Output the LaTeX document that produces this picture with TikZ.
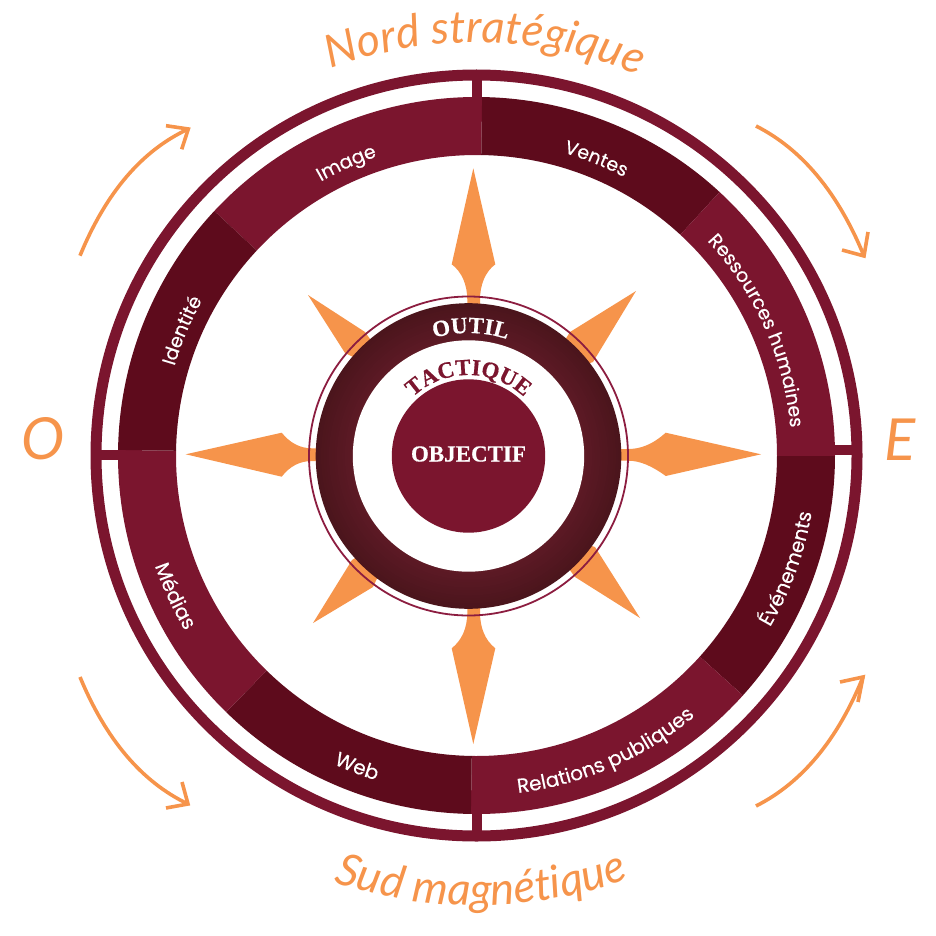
\documentclass[tikz,border=0pt]{standalone}
\usepackage{fontspec}
\usetikzlibrary{decorations.text,calc}
\newfontfamily\handfont{Lato}
\newfontfamily\bandfont[FakeBold=0.25]{Poppins}
\newfontfamily\heavyfont[BoldFeatures={FakeBold=0.5}]{Liberation Serif}
\definecolor{wine}{HTML}{7B152E}
\definecolor{winedark}{HTML}{5E0B1C}
\definecolor{sun}{HTML}{F6944B}
\definecolor{hairline}{HTML}{8C1D40}
\definecolor{ringa}{HTML}{5E1A26}
\definecolor{ringb}{HTML}{4B151C}
\tikzset{
  spike/.style={fill=sun},
  loop/.style={draw=sun,line width=3.6pt,fill=none},
  headline/.style={draw=sun,line width=3.6pt,line cap=butt},
  spoke/.style={draw=wine,line width=10pt},
  cardinal/.style={text=sun,font=\handfont\itshape\fontsize{58}{58}\selectfont,inner sep=0pt},
  core/.style={text=white,font=\heavyfont\bfseries\fontsize{23}{23}\selectfont,inner sep=0pt}
}
\newcommand\bandseg[3]{\fill[#3] (C) ++(#1:358.5pt) arc (#1:#2:358.5pt) -- ($(C)+(#2:300.5pt)$) arc (#2:#1:300.5pt) -- cycle;}
\newcommand\curvedtext[6]{\path[decorate,decoration={text along path,text={|#5|#6},text align=center}] (#1) ++(#2:#4) arc (#2:#3:#4);}
\newcommand\bandfmt{\bandfont\fontsize{19}{19}\selectfont\color{white}}
\newcommand\bandfmtb{\bandfont\fontsize{20}{20}\selectfont\color{white}}
\newcommand\curvedarrow[5]{%
  \draw[loop] (#1) .. controls ($(#1)!0.667!(#2)$) and ($(#3)!0.667!(#2)$) .. (#3);
  \draw[headline] (#4) -- (#3) -- (#5);}
\begin{document}
\begin{tikzpicture}[x=1pt,y=-1pt]
\useasboundingbox (0,0) rectangle (936,936);
\coordinate (C) at (476.5,455.5);
\coordinate (H) at (468.5,456);
% compass points
\fill[spike] (473.3,168.3) -- (495.3,264.3) .. controls (485,272) and (480,285) .. (480,300) -- (480,315) -- (467.3,315) -- (467.3,300) .. controls (467.3,285) and (462,272) .. (451.7,264.3) -- cycle;
\fill[spike] (761,454.3) -- (665.7,432.7) .. controls (652,445) and (640,449) .. (628,449) -- (610,449) -- (610,460.7) -- (628,460.7) .. controls (640,460.7) and (652,466) .. (665.7,476) -- cycle;
\fill[spike] (185.7,454.3) -- (281.7,432.7) .. controls (290,443) and (300,448.3) .. (312,448.3) -- (330,448.3) -- (330,461) -- (312,461) .. controls (300,461) and (290,466) .. (281.7,476.7) -- cycle;
\fill[spike] (473.3,744) -- (495.3,648.3) .. controls (485,640) and (480,628) .. (480,612) -- (480,600) -- (467.3,600) -- (467.3,612) .. controls (467.3,628) and (462,640) .. (451.7,648.3) -- cycle;
\fill[spike] (308,295) -- (365,332) -- (400,380) -- (345,353) -- cycle;
\fill[spike] (636,291) -- (593,362) -- (540,380) -- (570,332) -- cycle;
\fill[spike] (640,618) -- (575,577) -- (540,530) -- (595,547) -- cycle;
\fill[spike] (313,623) -- (352,560) -- (400,530) -- (373,587) -- cycle;
% outer ring and spokes
\draw[wine,line width=11pt] (C) circle (380.5pt);
\draw[spoke] (477,72) -- (477,100);
\draw[spoke] (832,449.5) -- (860,449.5);
\draw[spoke] (477,810) -- (477,838);
\draw[spoke] (93,455) -- (121,455);
% band
\bandseg{137}{89.1}{wine}
\bandseg{89.1}{47.3}{winedark}
\bandseg{47.3}{-0.1}{wine}
\bandseg{-0.1}{-42}{winedark}
\bandseg{-42}{-90.9}{wine}
\bandseg{-90.9}{-134.3}{winedark}
\bandseg{-134.3}{-180.9}{wine}
\bandseg{179.1}{137}{winedark}
% band labels
\curvedtext{C}{144}{84}{315pt}{\bandfmt}{Image}
\curvedtext{C}{98}{38}{315pt}{\bandfmt}{Ventes}
\curvedtext{C}{64}{-16}{315pt}{\bandfmt}{Ressources humaines}
\curvedtext{C}{187}{127}{315pt}{\bandfmt}{Identité}
\curvedtext{C}{-50}{10}{340pt}{\bandfmtb}{Événements}
\curvedtext{C}{-106}{-27}{340pt}{\bandfmtb}{Relations publiques}
\curvedtext{C}{219}{279}{340pt}{\bandfmtb}{Web}
\curvedtext{C}{175}{235}{340pt}{\bandfmtb}{Médias}
% inner rings
\foreach \i in {0,...,14}{
  \pgfmathsetmacro\rad{152.8-\i*2.65}
  \pgfmathsetmacro\mixv{\i*100/14}
  \fill[ringa!\mixv!ringb] (H) circle (\rad pt);
}
\fill[white] (H) circle (115.7pt);
\draw[hairline,line width=1.8pt] (H) circle (159.5pt);
\fill[wine] (H) circle (76.7pt);
\curvedtext{H}{149}{29}{123pt}{\heavyfont\bfseries\fontsize{23}{23}\selectfont\color{white}}{OUTIL}
\curvedtext{H}{170}{10}{81pt}{\heavyfont\bfseries\fontsize{23}{23}\selectfont\color{wine}}{TACTIQUE}
\node[core,anchor=base] (objectif) at (468.5,461.5) {OBJECTIF};
% titles
\curvedtext{C}{123.8}{53.8}{413pt}{\handfont\itshape\fontsize{45}{45}\selectfont\color{sun}}{Nord stratégique}
\curvedtext{C}{-124.4}{-54.4}{450pt}{\handfont\itshape\fontsize{45}{45}\selectfont\color{sun}}{Sud magnétique}
\node[cardinal] (ouest) at (43,439) {O};
\node[cardinal] (est) at (900,440) {E};
% arrows
\coordinate (a1) at (80,255.7); \coordinate (a1c) at (119,161); \coordinate (a1t) at (188.3,129);
\coordinate (a1b) at (166,125.7); \coordinate (a1d) at (181.7,149.3);
\curvedarrow{a1}{a1c}{a1t}{a1b}{a1d}
\coordinate (a2) at (756,126); \coordinate (a2c) at (825,161); \coordinate (a2t) at (864,256);
\coordinate (a2b) at (868,232); \coordinate (a2d) at (842,250);
\curvedarrow{a2}{a2c}{a2t}{a2b}{a2d}
\coordinate (a3) at (756,806); \coordinate (a3c) at (825,771); \coordinate (a3t) at (863,677);
\coordinate (a3b) at (840,682); \coordinate (a3d) at (858,702);
\curvedarrow{a3}{a3c}{a3t}{a3b}{a3d}
\coordinate (a4) at (80,677); \coordinate (a4c) at (119,771); \coordinate (a4t) at (188,804);
\coordinate (a4b) at (166,808); \coordinate (a4d) at (182,782);
\curvedarrow{a4}{a4c}{a4t}{a4b}{a4d}
\end{tikzpicture}
\end{document}
